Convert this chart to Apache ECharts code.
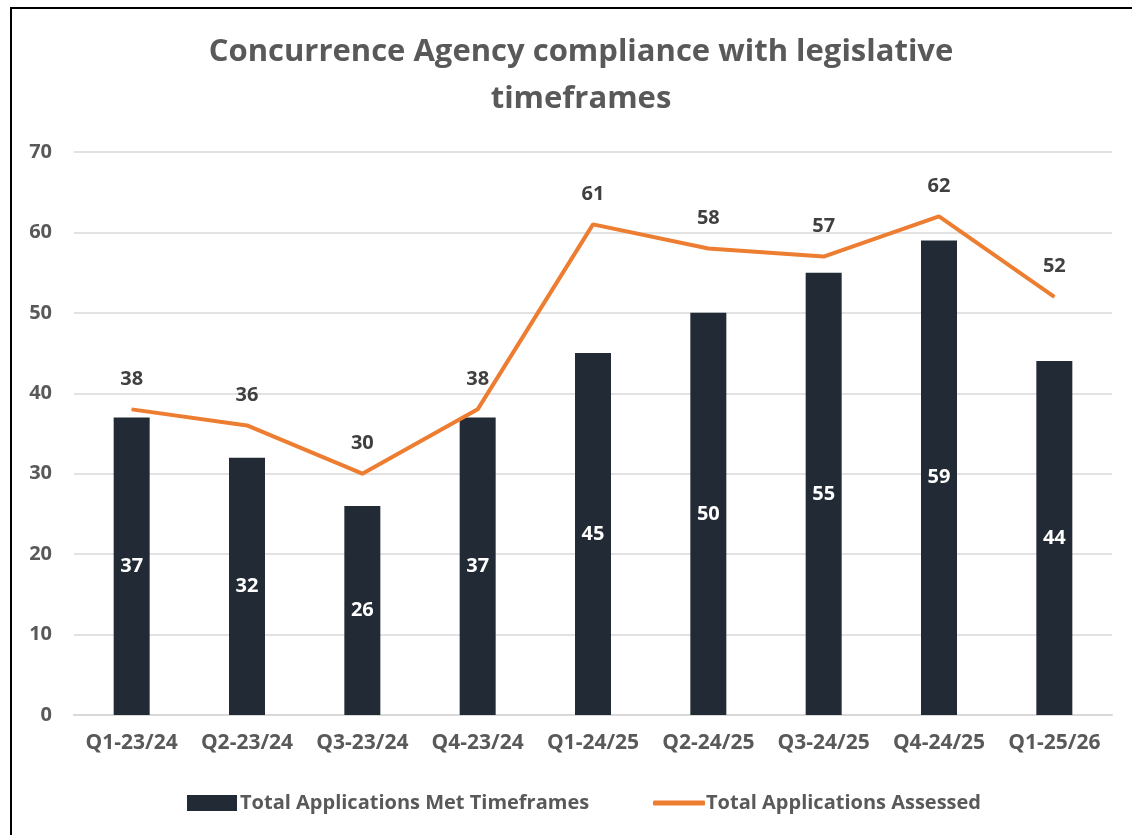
<!DOCTYPE html>
<html>
<head>
<meta charset="utf-8">
<script src="https://cdn.jsdelivr.net/npm/echarts@6/dist/echarts.min.js"></script>
<style>
  html, body { margin: 0; padding: 0; background: #fff; }
  #frame { position: absolute; left: 10px; top: 7px; width: 1140px; height: 840px; border: 2px solid #000; box-sizing: border-box; }
  #chart { position: absolute; left: 0; top: 0; width: 1132px; height: 835px; }
</style>
</head>
<body>
<div id="frame"></div>
<div id="chart"></div>
<script>
// quarters on the x axis
const quarters = ['Q1-23/24', 'Q2-23/24', 'Q3-23/24', 'Q4-23/24', 'Q1-24/25', 'Q2-24/25', 'Q3-24/25', 'Q4-24/25', 'Q1-25/26'];
const metTimeframes = [37, 32, 26, 37, 45, 50, 55, 59, 44];
const assessed = [38, 36, 30, 38, 61, 58, 57, 62, 52];
const yTicks = [0, 10, 20, 30, 40, 50, 60, 70];

const font = '"Open Sans", "Liberation Sans", sans-serif';
const grey = '#595959';

const chart = echarts.init(document.getElementById('chart'));
const option = {
  animation: false,
  textStyle: { fontFamily: font },
  title: {
    text: 'Concurrence Agency compliance with legislative\ntimeframes',
    left: 576,
    textAlign: 'center',
    top: 24,
    textStyle: { fontFamily: font, fontSize: 31, fontWeight: 'bold', color: grey, lineHeight: 47 }
  },
  legend: [
    {
      data: [{ name: 'Total Applications Met Timeframes', icon: 'rect' }],
      left: 182, top: 788,
      itemWidth: 50, itemHeight: 16, itemGap: 6,
      textStyle: { fontFamily: font, fontSize: 20, fontWeight: 'bold', color: grey, padding: [0, 0, 0, -2] }
    },
    {
      data: [{ name: 'Total Applications Assessed', icon: 'roundRect' }],
      left: 648, top: 788,
      itemWidth: 52, itemHeight: 5, itemGap: 6,
      textStyle: { fontFamily: font, fontSize: 20, fontWeight: 'bold', color: grey, padding: [0, 0, 0, -4] }
    }
  ],
  grid: { left: 74, right: 20, top: 152, bottom: 120 },
  xAxis: {
    type: 'category',
    data: quarters,
    axisLine: { show: true, lineStyle: { color: '#d9d9d9', width: 2 } },
    axisTick: { show: false },
    axisLabel: { color: grey, fontSize: 21, fontWeight: 'bold', margin: 18, fontFamily: font, interval: 0 }
  },
  yAxis: {
    type: 'value',
    min: yTicks[0],
    max: yTicks[yTicks.length - 1],
    interval: 10,
    axisLine: { show: false },
    axisTick: { show: false },
    axisLabel: { color: grey, fontSize: 20, fontWeight: 'bold', margin: 22, fontFamily: font },
    splitLine: { lineStyle: { color: '#d9d9d9', width: 1.5 } }
  },
  series: [
    {
      name: 'Total Applications Met Timeframes',
      type: 'bar',
      data: metTimeframes,
      barWidth: 36,
      itemStyle: { color: '#222a35' },
      label: { show: true, position: 'inside', color: '#fff', fontSize: 20, fontWeight: 'bold', fontFamily: font }
    },
    {
      name: 'Total Applications Assessed',
      type: 'line',
      data: assessed,
      symbol: 'circle',
      symbolSize: 1,
      showSymbol: true,
      lineStyle: { color: '#ed7d31', width: 4 },
      itemStyle: { color: '#ed7d31' },
      label: { show: true, position: 'top', distance: 20, color: '#404040', fontSize: 20, fontWeight: 'bold', fontFamily: font }
    }
  ]
};
chart.setOption(option);
window.addEventListener('resize', function () { chart.resize(); });
</script>
</body>
</html>
